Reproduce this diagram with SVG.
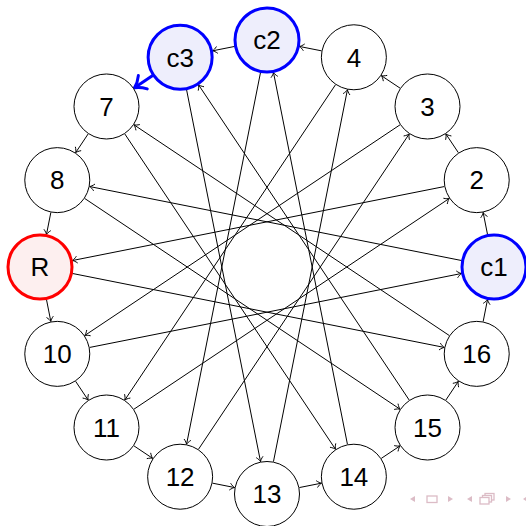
<svg xmlns="http://www.w3.org/2000/svg" width="526" height="526" viewBox="0 0 526 526">
<style>
.n{fill:#ffffff;stroke:#000;stroke-width:1}
.b{fill:#eeeefc;stroke:#0000ff;stroke-width:3}
.r{fill:#fdefef;stroke:#ff0000;stroke-width:3}
.t{font-family:"Liberation Sans","DejaVu Sans",sans-serif;font-size:26px;fill:#000;text-anchor:middle}
.e{fill:none;stroke:#000;stroke-width:1;marker-end:url(#ar)}
.nav{fill:#dcbcc6;stroke:none}
.navs{fill:none;stroke:#dcbcc6;stroke-width:1.3}
</style>
<defs>
<marker id="ar" markerUnits="userSpaceOnUse" markerWidth="14" markerHeight="14" viewBox="-7 -7 14 14" refX="0" refY="0" orient="auto" overflow="visible">
<path d="M-4.5,-3.2 C-3,-1.6 -1.2,-0.4 0,0 C-1.2,0.4 -3,1.6 -4.5,3.2" fill="none" stroke="#000" stroke-width="0.9" stroke-linecap="round"/>
</marker>
<marker id="arb" markerUnits="userSpaceOnUse" markerWidth="28" markerHeight="28" viewBox="-14 -14 28 28" refX="0" refY="0" orient="auto" overflow="visible">
<path d="M-10,-8 C-6.5,-3.8 -2,-0.9 0,0 C-2,0.9 -6.5,3.8 -10,8" fill="none" stroke="#0000ff" stroke-width="3" stroke-linecap="round"/>
</marker>
</defs>
<g id="connectors">
<path class="e" d="M461.63,260.54 L89.65,186.55"/>
<path class="e" d="M444.35,186.55 L72.37,260.54"/>
<path class="e" d="M400.06,124.81 L84.71,335.52"/>
<path class="e" d="M335.52,84.71 L124.81,400.06"/>
<path class="e" d="M260.54,72.37 L186.55,444.35"/>
<path class="e" d="M186.55,89.65 L260.54,461.63"/>
<path class="e" d="M124.81,133.94 L335.52,449.29"/>
<path class="e" d="M84.71,198.48 L400.06,409.19"/>
<path class="e" d="M72.37,273.46 L444.35,347.45"/>
<path class="e" d="M89.65,347.45 L461.63,273.46"/>
<path class="e" d="M133.94,409.19 L449.29,198.48"/>
<path class="e" d="M198.48,449.29 L409.19,133.94"/>
<path class="e" d="M273.46,461.63 L347.45,89.65"/>
<path class="e" d="M347.45,444.35 L273.46,72.37"/>
<path class="e" d="M409.19,400.06 L198.48,84.71"/>
<path class="e" d="M449.29,335.52 L133.94,124.81"/>
<path class="e" d="M487.56,234.63 L483.16,212.50"/>
<path class="e" d="M458.38,152.69 L445.85,133.93"/>
<path class="e" d="M400.07,88.15 L381.31,75.62"/>
<path class="e" d="M321.50,50.84 L299.37,46.44"/>
<path class="e" d="M234.63,46.44 L212.50,50.84"/>
<path d="M152.69,75.62 L134.5,87.8" fill="none" stroke="#0000ff" stroke-width="3" marker-end="url(#arb)"/>
<path class="e" d="M88.15,133.93 L75.62,152.69"/>
<path class="e" d="M50.84,212.50 L46.44,234.63"/>
<path class="e" d="M46.44,299.37 L50.84,321.50"/>
<path class="e" d="M75.62,381.31 L88.15,400.07"/>
<path class="e" d="M133.93,445.85 L152.69,458.38"/>
<path class="e" d="M212.50,483.16 L234.63,487.56"/>
<path class="e" d="M299.37,487.56 L321.50,483.16"/>
<path class="e" d="M381.31,458.38 L400.07,445.85"/>
<path class="e" d="M445.85,400.07 L458.38,381.31"/>
<path class="e" d="M483.16,321.50 L487.56,299.37"/>
</g>
<g id="n_c1"><circle class="b" cx="494" cy="267" r="32"/><text class="t" x="494" y="276.3">c1</text></g>
<g id="n_2"><circle class="n" cx="476.72" cy="180.13" r="32.5"/><text class="t" x="476.72" y="189.4">2</text></g>
<g id="n_3"><circle class="n" cx="427.51" cy="106.49" r="32.5"/><text class="t" x="427.51" y="115.8">3</text></g>
<g id="n_4"><circle class="n" cx="353.87" cy="57.28" r="32.5"/><text class="t" x="353.87" y="66.6">4</text></g>
<g id="n_c2"><circle class="b" cx="267" cy="40" r="32"/><text class="t" x="267" y="49.3">c2</text></g>
<g id="n_c3"><circle class="b" cx="180.13" cy="57.28" r="32"/><text class="t" x="180.13" y="66.6">c3</text></g>
<g id="n_7"><circle class="n" cx="106.49" cy="106.49" r="32.5"/><text class="t" x="106.49" y="115.8">7</text></g>
<g id="n_8"><circle class="n" cx="57.28" cy="180.13" r="32.5"/><text class="t" x="57.28" y="189.4">8</text></g>
<g id="n_R"><circle class="r" cx="40" cy="267" r="32"/><text class="t" x="40" y="276.3">R</text></g>
<g id="n_10"><circle class="n" cx="57.28" cy="353.87" r="32.5"/><text class="t" x="57.28" y="363.2">10</text></g>
<g id="n_11"><circle class="n" cx="106.49" cy="427.51" r="32.5"/><text class="t" x="106.49" y="436.8">11</text></g>
<g id="n_12"><circle class="n" cx="180.13" cy="476.72" r="32.5"/><text class="t" x="180.13" y="486">12</text></g>
<g id="n_13"><circle class="n" cx="267" cy="494" r="32.5"/><text class="t" x="267" y="503.3">13</text></g>
<g id="n_14"><circle class="n" cx="353.87" cy="476.72" r="32.5"/><text class="t" x="353.87" y="486">14</text></g>
<g id="n_15"><circle class="n" cx="427.51" cy="427.51" r="32.5"/><text class="t" x="427.51" y="436.8">15</text></g>
<g id="n_16"><circle class="n" cx="476.72" cy="353.87" r="32.5"/><text class="t" x="476.72" y="363.2">16</text></g>
<g id="nav">
<polygon class="nav" points="410,499 415,496 415,502"/>
<rect class="navs" x="427" y="496" width="10" height="6.5"/>
<polygon class="nav" points="448,496 453,499 448,502"/>
<polygon class="nav" points="467,499 472,496 472,502"/>
<rect class="navs" x="485" y="493.5" width="9" height="6.5"/>
<rect class="navs" x="482.5" y="495.5" width="9" height="6.5" style="fill:#ffffff"/>
<rect class="navs" x="480" y="497.5" width="9" height="6.5" style="fill:#ffffff"/>
<polygon class="nav" points="506,496 511,499 506,502"/>
<polygon class="nav" points="523,499 526,497 526,501"/>
</g>
</svg>
